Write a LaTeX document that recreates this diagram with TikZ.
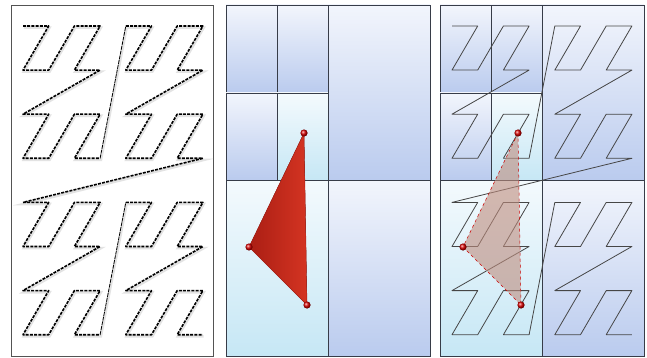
\documentclass[tikz,border=0pt]{standalone}
\usepackage{xcolor}
\usepackage{tikz}
\usetikzlibrary{calc}
\definecolor{cellhi}{RGB}{242,245,252}
\definecolor{celllo}{RGB}{186,203,238}
\definecolor{cyanhi}{RGB}{244,250,253}
\definecolor{cyanlo}{RGB}{198,231,245}
\definecolor{tridark}{RGB}{170,30,20}
\definecolor{trired}{RGB}{212,52,34}
\definecolor{tripale}{RGB}{190,140,125}
\definecolor{gridline}{RGB}{55,60,72}
\tikzset{
  panel/.style     = {draw=gray!65!black, line width=0.8pt},
  cellblue/.style  = {draw=gridline, line width=0.9pt,
                      top color=cellhi, bottom color=celllo},
  cellcyan/.style  = {draw=gridline, line width=0.9pt,
                      top color=cyanhi, bottom color=cyanlo},
  zdash/.style     = {black, line width=1.6pt, dash pattern=on 3pt off 1.2pt,
                      line join=round},
  zthin/.style     = {black, line width=0.8pt, dash pattern=on 4pt off 0.8pt},
  zshadow/.style   = {gray, line width=2.6pt, opacity=0.22,
                      transform canvas={shift={(0.8pt,-1.6pt)}}},
  zline/.style     = {gray!55!black, line width=0.8pt, line join=round},
  tri/.style       = {left color=tridark, right color=trired, draw=tridark,
                      line width=0.4pt, line join=round},
  trighost/.style  = {fill=tripale, fill opacity=0.6, draw=red!80!black,
                      dashed, line width=0.5pt},
  vertexball/.style= {ball color=red!85!black, draw=none},
}

\begin{document}
\begin{tikzpicture}[x=1pt, y=-1pt]
  \useasboundingbox (0,0) rectangle (647,358);

  % Z-order points, left and right panel
  \foreach \k in {0,...,63} {
    \pgfmathtruncatemacro\ci{mod(\k,2)+2*mod(floor(\k/4),2)+4*mod(floor(\k/16),2)}
    \pgfmathtruncatemacro\cj{mod(floor(\k/2),2)+2*mod(floor(\k/8),2)+4*mod(floor(\k/32),2)}
    \coordinate (zl-\k) at ({23+25.7*\ci},{26+44.1*\cj});
    \coordinate (zr-\k) at ({452+25.7*\ci},{26+44.1*\cj});
  }

  % left panel: four blocks of 16, joined
  \filldraw[panel, fill=white] (11,5) rectangle (213,356);
  \draw[zshadow] (zl-0) \foreach \k in {1,...,63} {-- (zl-\k)};
  \foreach \q in {0,16,32,48} {
    \pgfmathtruncatemacro\qa{\q+1}
    \pgfmathtruncatemacro\qb{\q+15}
    \draw[zdash] (zl-\q) \foreach \k in {\qa,...,\qb} {-- (zl-\k)};
  }
  \draw[zthin] (zl-15) -- (zl-16);
  \draw[zthin] (zl-47) -- (zl-48);
  \draw[zdash] (zl-31) -- (zl-32);

  % cells, middle and right panel
  \foreach \ox in {0,214} {
    \begin{scope}[shift={(\ox,0)}]
      \filldraw[cellblue] (226,5)   rectangle (277,93);
      \filldraw[cellblue] (277,5)   rectangle (328,93);
      \filldraw[cellblue] (226,93)  rectangle (277,180);
      \filldraw[cellcyan] (277,93)  rectangle (328,180);
      \filldraw[cellblue] (328,5)   rectangle (430,180);
      \filldraw[cellcyan] (226,180) rectangle (328,356);
      \filldraw[cellblue] (328,180) rectangle (430,356);
    \end{scope}
  }

  % query triangle
  \coordinate (ta) at (304,133);
  \coordinate (tb) at (249,247);
  \coordinate (tc) at (307,305);
  \filldraw[tri] (ta) -- (tb) -- (tc) -- cycle;
  \foreach \v in {ta,tb,tc}
    \shade[vertexball] (\v) circle (3.6);

  % right panel: curve over cells, ghost triangle
  \draw[zline] (zr-0) \foreach \k in {1,...,63} {-- (zr-\k)};
  \coordinate (ra) at ($(ta)+(214,0)$);
  \coordinate (rb) at ($(tb)+(214,0)$);
  \coordinate (rc) at ($(tc)+(214,0)$);
  \filldraw[trighost] (ra) -- (rb) -- (rc) -- cycle;
  \foreach \v in {ra,rb,rc}
    \shade[vertexball] (\v) circle (3.6);
\end{tikzpicture}
\end{document}
